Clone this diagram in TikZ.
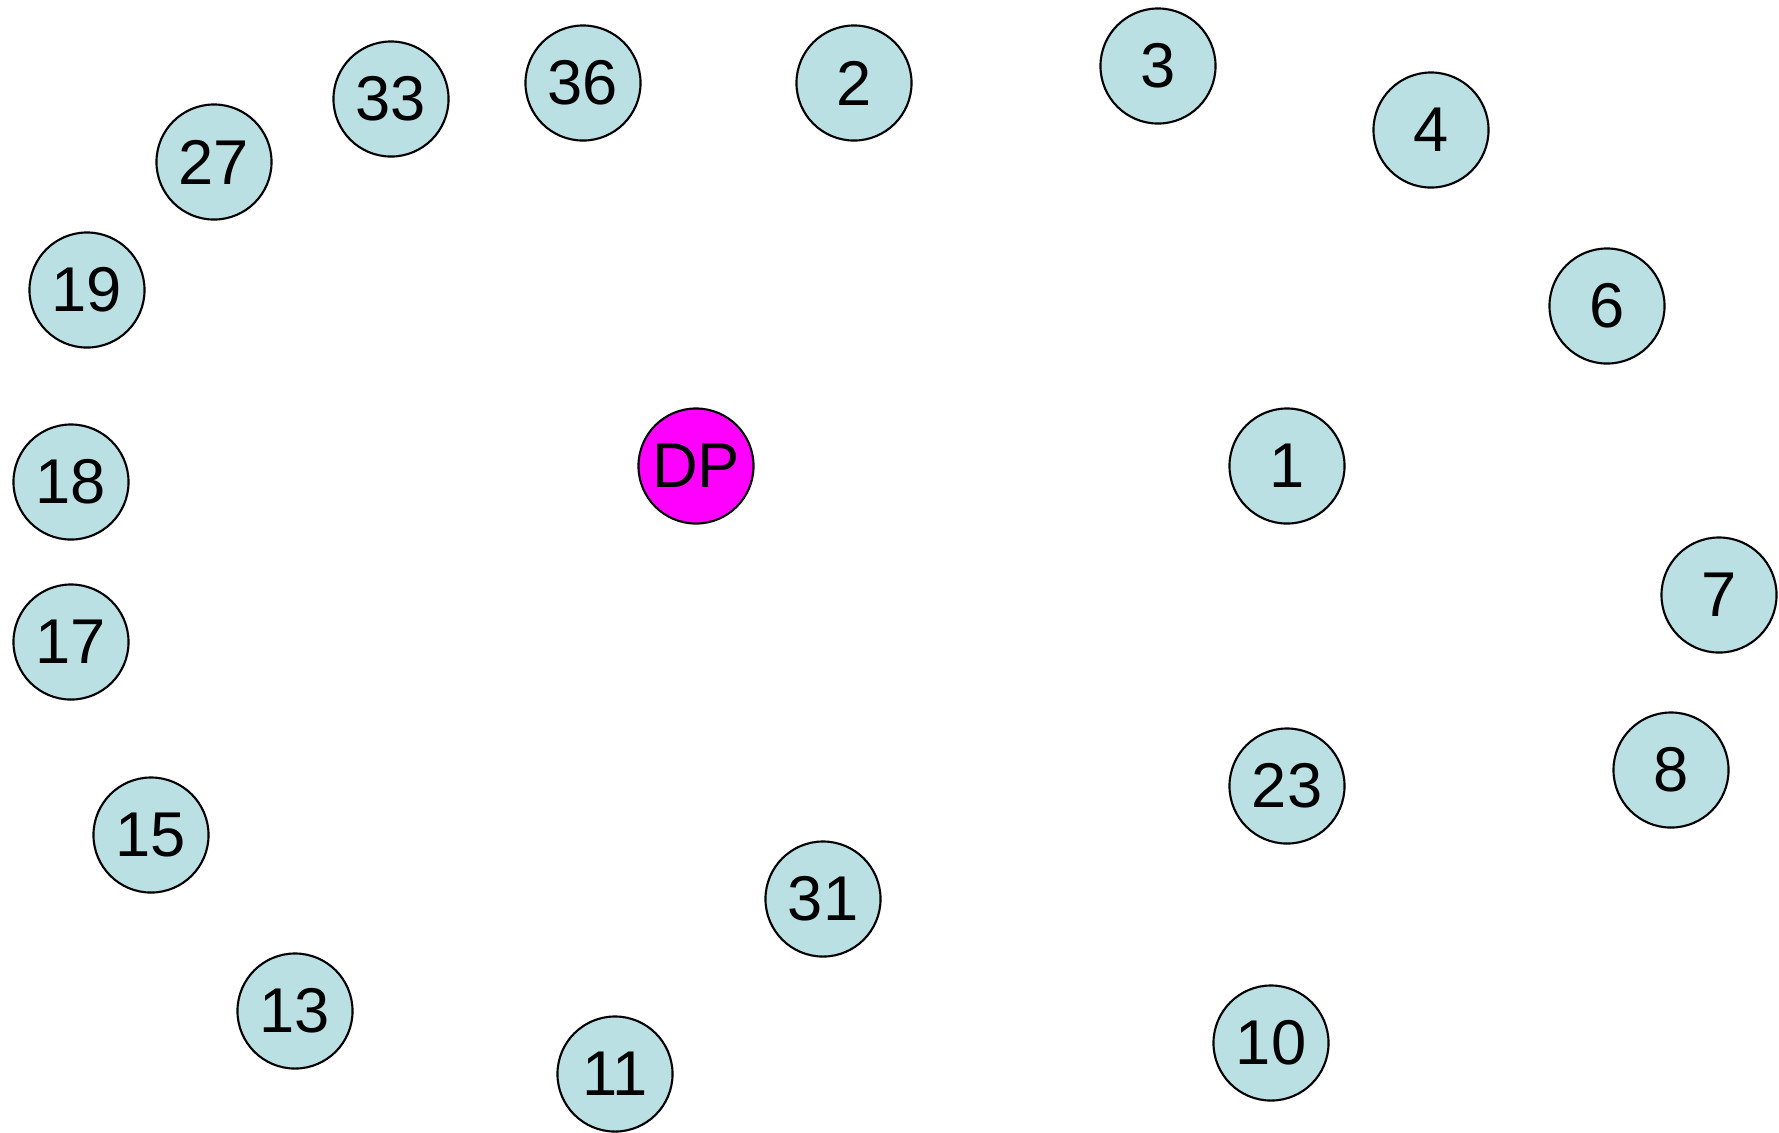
\documentclass[tikz,border=0pt]{standalone}
\usepackage{fontspec}
\setmainfont{Liberation Sans}
\usepackage{xcolor}
\usepackage{tikz}
\definecolor{custfill}{HTML}{BBE0E3}
\definecolor{depotfill}{HTML}{FF00FF}

\begin{document}
\begin{tikzpicture}[x=0.01cm,y=-0.01cm,line join=round,
    cust/.style={circle,draw=black,line width=0.6pt,fill=custfill,minimum size=1.15cm,inner sep=0pt,font=\fontsize{18}{20}\selectfont},
    depot/.style={cust,fill=depotfill}]
  \useasboundingbox (0,0) rectangle (1779,1132);
  \node[depot] (DP) at (696,466) {DP};
  \node[cust] (c1) at (1287,466) {1};
  \node[cust] (c2) at (854,83) {2};
  \node[cust] (c3) at (1158,66) {3};
  \node[cust] (c4) at (1431,130) {4};
  \node[cust] (c6) at (1607,306) {6};
  \node[cust] (c7) at (1719,595) {7};
  \node[cust] (c8) at (1671,770) {8};
  \node[cust] (c10) at (1271,1043) {10};
  \node[cust] (c11) at (615,1074) {11};
  \node[cust] (c13) at (295,1011) {13};
  \node[cust] (c15) at (151,835) {15};
  \node[cust] (c17) at (71,642) {17};
  \node[cust] (c18) at (71,482) {18};
  \node[cust] (c19) at (87,290) {19};
  \node[cust] (c23) at (1287,786) {23};
  \node[cust] (c27) at (214,162) {27};
  \node[cust] (c31) at (823,899) {31};
  \node[cust] (c33) at (391,99) {33};
  \node[cust] (c36) at (583,83) {36};
\end{tikzpicture}
\end{document}
